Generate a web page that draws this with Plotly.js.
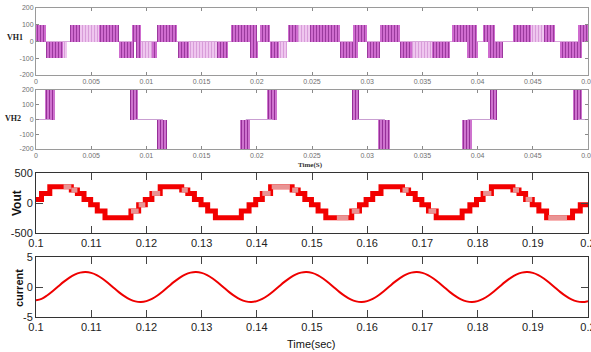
<!DOCTYPE html>
<html><head><meta charset="utf-8">
<script src="https://cdn.plot.ly/plotly-3.0.1.min.js"></script>
<style>html,body{margin:0;padding:0;background:#fff;overflow:hidden}#c{width:591px;height:352px}</style>
</head><body><div id="c"></div>
<script>
// ---------- VH1 : PWM blocks (time start / end, level, shade d=dark l=light)
const vh1Start = [0.0000,0.0009,0.0024,0.0031,0.0040,0.0057,0.0075,0.0087,0.0091,0.0095,0.0105,0.0110,0.0129,0.0139,0.0164,0.0177,0.0194,0.0203,0.0212,0.0220,0.0228,0.0237,0.0248,0.0275,0.0287,0.0300,0.0312,0.0330,0.0341,0.0359,0.0377,0.0390,0.0405,0.0409,0.0432,0.0448,0.0460,0.0475,0.0491];
const vh1End   = [0.0009,0.0024,0.0028,0.0040,0.0057,0.0075,0.0089,0.0095,0.0095,0.0105,0.0110,0.0128,0.0139,0.0164,0.0174,0.0200,0.0201,0.0212,0.0220,0.0227,0.0237,0.0248,0.0275,0.0292,0.0300,0.0312,0.0330,0.0341,0.0359,0.0375,0.0399,0.0400,0.0416,0.0423,0.0448,0.0460,0.0470,0.0495,0.0500];
const vh1Level = [100,-100,-100,100,100,100,-100,100,-100,-100,-100,100,-100,-100,-100,100,-100,100,-100,-100,100,100,100,-100,100,-100,100,-100,-100,-100,100,-100,100,-100,100,100,100,-100,100];
const vh1Shade = ['d','d','l','d','l','d','d','d','d','l','d','d','d','l','d','d','d','d','d','l','d','l','d','d','d','d','d','d','l','d','d','d','d','d','d','l','d','d','d'];

// ---------- VH2 : switching blocks + step level
const vh2BlockStart = [0.0008,0.0085,0.0110,0.0185,0.0209,0.0286,0.0310,0.0386,0.0411,0.0486];
const vh2BlockEnd   = [0.0017,0.0092,0.0119,0.0194,0.0218,0.0293,0.0321,0.0395,0.0418,0.0495];
const vh2BlockLevel = [200,200,-200,-200,200,200,-200,-200,200,200];
const vh2StepT = [0,0.0013,0.0089,0.0115,0.0190,0.0214,0.0290,0.0316,0.0391,0.0415,0.0491,0.05];
const vh2StepV = [0,200,0,-200,0,200,0,-200,0,200,0,0];

// ---------- Vout : staircase (change times, levels) + lighter PWM segments
const voutT = [0.1000,0.1010,0.1025,0.1064,0.1075,0.1087,0.1099,0.1111,0.1125,
  0.1172,0.1186,0.1198,0.1210,0.1225,0.1264,0.1275,0.1287,0.1299,0.1311,0.1325,
  0.1372,0.1386,0.1398,0.1410,0.1425,0.1464,0.1475,0.1487,0.1499,0.1511,0.1525,
  0.1572,0.1586,0.1598,0.1610,0.1625,0.1664,0.1675,0.1687,0.1699,0.1711,0.1725,
  0.1772,0.1786,0.1798,0.1810,0.1825,0.1864,0.1875,0.1887,0.1899,0.1911,0.1925,
  0.1972,0.1986,0.2000];
const voutV = [60,160,270,215,160,60,-30,-135,-245,
  -135,-30,60,160,270,215,160,60,-30,-135,-245,
  -135,-30,60,160,270,215,160,60,-30,-135,-245,
  -135,-30,60,160,270,215,160,60,-30,-135,-245,
  -135,-30,60,160,270,215,160,60,-30,-135,-245,
  -135,-30,-30];
const voutLightStart = [0.1050,0.1064,0.1172,0.1186,0.1210,0.1264,0.1410,0.1427,0.1464,0.1545,0.1572,0.1664,0.1711,0.1810,0.1864,0.1887,0.1928];
const voutLightEnd   = [0.1064,0.1075,0.1186,0.1198,0.1225,0.1275,0.1425,0.1460,0.1475,0.1566,0.1586,0.1675,0.1725,0.1825,0.1875,0.1899,0.1962];
const voutLightLevel = [270,215,-135,-30,160,215,160,270,215,-245,-135,215,-135,160,215,60,-245];

// ---------- current (sampled every 1 ms from 0.1 s)
const currentT0 = 0.1, currentDt = 0.001;
const currentV = [-2.20,-1.98,-1.41,-0.70,0.08,0.85,1.53,2.07,2.40,2.50,2.35,1.98,1.41,0.70,-0.08,-0.85,-1.53,-2.07,-2.40,-2.50,
  -2.35,-1.98,-1.41,-0.70,0.08,0.85,1.53,2.07,2.40,2.50,2.35,1.98,1.41,0.70,-0.08,-0.85,-1.53,-2.07,-2.40,-2.50,
  -2.35,-1.98,-1.41,-0.70,0.08,0.85,1.53,2.07,2.40,2.50,2.35,1.98,1.41,0.70,-0.08,-0.85,-1.53,-2.07,-2.40,-2.50,
  -2.35,-1.98,-1.41,-0.70,0.08,0.85,1.53,2.07,2.40,2.50,2.35,1.98,1.41,0.70,-0.08,-0.85,-1.53,-2.07,-2.40,-2.50,
  -2.35,-1.98,-1.41,-0.70,0.08,0.85,1.53,2.07,2.40,2.50,2.35,1.98,1.41,0.70,-0.08,-0.85,-1.53,-2.07,-2.40,-2.50,
  -2.35];

// ---------- ticks
const topXTicks = [0,0.005,0.01,0.015,0.02,0.025,0.03,0.035,0.04,0.045,0.05];
const topXText  = ['0','0.005','0.01','0.015','0.02','0.025','0.03','0.035','0.04','0.045','0.05'];
const topYTicks = [-200,-100,0,100,200];
const topYText  = ['-200','-100','0','100','200'];
const botXTicks = [0.1,0.11,0.12,0.13,0.14,0.15,0.16,0.17,0.18,0.19,0.2];
const botXText  = ['0.1','0.11','0.12','0.13','0.14','0.15','0.16','0.17','0.18','0.19','0.2'];
const voutYTicks = [-500,0,500], voutYText = ['-500','0','500'];
const curYTicks = [-5,0,5], curYText = ['-5','0','5'];

// ---------- build traces
function blocks(starts, ends, levels, xa, ya, bg, fg, sol) {
  return {type:'bar', x: starts.map((s,i)=>(s+ends[i])/2), y: levels, base: 0,
    width: starts.map((s,i)=>ends[i]-s), xaxis: xa, yaxis: ya, hoverinfo:'skip', showlegend:false,
    marker:{color:bg, line:{width:0}, pattern:{shape:'|', fillmode:'replace', bgcolor:bg, fgcolor:fg, size:3, solidity:sol}}};
}
function pick(arr, shade) { return arr.filter((_,i)=>vh1Shade[i]===shade); }

const traces = [];
traces.push(blocks(pick(vh1Start,'d'), pick(vh1End,'d'), pick(vh1Level,'d'), 'x', 'y', '#cf6ccf', '#9a3a9d', 0.35));
traces.push(blocks(pick(vh1Start,'l'), pick(vh1End,'l'), pick(vh1Level,'l'), 'x', 'y', '#efc6ef', '#d699d7', 0.3));

// VH2 level line: only the zero-level stretches are visible (±200 lie on the frame)
const zx = [], zy = [];
for (let i = 0; i < vh2StepT.length - 1; i++) {
  if (vh2StepV[i] === 0) { zx.push(vh2StepT[i], vh2StepT[i+1], null); zy.push(0, 0, null); }
}
traces.push({type:'scatter', mode:'lines', x: zx, y: zy, xaxis:'x2', yaxis:'y2',
  line:{color:'#c99fd2', width:1}, hoverinfo:'skip', showlegend:false});
traces.push(blocks(vh2BlockStart, vh2BlockEnd, vh2BlockLevel, 'x2', 'y2', '#d47ad4', '#962f98', 0.4));

traces.push({type:'scatter', mode:'lines', x: voutT, y: voutV, xaxis:'x3', yaxis:'y3',
  line:{shape:'hv', color:'#f20000', width:5}, hoverinfo:'skip', showlegend:false});
const lx = [], ly = [];
voutLightStart.forEach((s,i)=>{ lx.push(s, voutLightEnd[i], null); ly.push(voutLightLevel[i], voutLightLevel[i], null); });
traces.push({type:'scatter', mode:'lines', x: lx, y: ly, xaxis:'x3', yaxis:'y3',
  line:{color:'#e99494', width:5}, hoverinfo:'skip', showlegend:false});

traces.push({type:'scatter', mode:'lines', x: currentV.map((_,i)=>currentT0 + i*currentDt), y: currentV,
  xaxis:'x4', yaxis:'y4', line:{shape:'spline', color:'#ee0000', width:2}, hoverinfo:'skip', showlegend:false});

// ---------- layout
const W = 591, H = 352;
const xd = [36/W, 588/W];
const yd = (top, bot) => [1 - bot/H, 1 - top/H];
const sans = 'Liberation Sans, Arial, sans-serif';
function topAx(extra) {
  return Object.assign({showline:true, linecolor:'#9a9a9a', linewidth:1, mirror:'ticks', ticks:'inside', ticklen:3,
    tickcolor:'#8a8a8a', tickfont:{family:sans, size:7, color:'#707070'}, ticklabeloverflow:'allow',
    showgrid:false, zeroline:false, fixedrange:true}, extra);
}
function botAx(extra) {
  return Object.assign({showline:true, linecolor:'#333', linewidth:1, mirror:'ticks', ticks:'inside', ticklen:7,
    tickcolor:'#444', tickfont:{family:sans, size:11, color:'#222'}, ticklabeloverflow:'allow',
    showgrid:false, zeroline:false, fixedrange:true}, extra);
}
const layout = {
  width: W, height: H, margin:{l:0,r:0,t:0,b:0}, paper_bgcolor:'#fff', plot_bgcolor:'#fff',
  barmode:'overlay', bargap:0, showlegend:false,
  xaxis:  topAx({domain:xd, anchor:'y',  range:[0,0.05], tickmode:'array', tickvals:topXTicks, ticktext:topXText}),
  yaxis:  topAx({domain:yd(8,75), anchor:'x', range:[-200,200], tickmode:'array', tickvals:topYTicks, ticktext:topYText,
                 zeroline:true, zerolinecolor:'#d9a8db', zerolinewidth:1}),
  xaxis2: topAx({domain:xd, anchor:'y2', range:[0,0.05], tickmode:'array', tickvals:topXTicks, ticktext:topXText}),
  yaxis2: topAx({domain:yd(90,149), anchor:'x2', range:[-200,200], tickmode:'array', tickvals:topYTicks, ticktext:topYText}),
  xaxis3: botAx({domain:xd, anchor:'y3', range:[0.1,0.2], tickmode:'array', tickvals:botXTicks, ticktext:botXText}),
  yaxis3: botAx({domain:yd(173,233), anchor:'x3', range:[-500,500], tickmode:'array', tickvals:voutYTicks, ticktext:voutYText}),
  xaxis4: botAx({domain:xd, anchor:'y4', range:[0.1,0.2], tickmode:'array', tickvals:botXTicks, ticktext:botXText}),
  yaxis4: botAx({domain:yd(257,317), anchor:'x4', range:[-5,5], tickmode:'array', tickvals:curYTicks, ticktext:curYText}),
  annotations: [
    {text:'<b>VH1</b>', x:15/W, y:1-37/H, xref:'paper', yref:'paper', showarrow:false, xanchor:'center', yanchor:'middle',
     font:{family:'Liberation Serif, serif', size:8, color:'#222'}},
    {text:'<b>VH2</b>', x:13/W, y:1-118/H, xref:'paper', yref:'paper', showarrow:false, xanchor:'center', yanchor:'middle',
     font:{family:'Liberation Serif, serif', size:8, color:'#222'}},
    {text:'<b>Time(S)</b>', x:311/W, y:1-165/H, xref:'paper', yref:'paper', showarrow:false, xanchor:'center', yanchor:'middle',
     font:{family:'Liberation Serif, serif', size:7, color:'#333'}},
    {text:'<b>Vout</b>', x:17/W, y:1-203/H, xref:'paper', yref:'paper', showarrow:false, textangle:-90, xanchor:'center', yanchor:'middle',
     font:{family:sans, size:12, color:'#111'}},
    {text:'<b>current</b>', x:19/W, y:1-288/H, xref:'paper', yref:'paper', showarrow:false, textangle:-90, xanchor:'center', yanchor:'middle',
     font:{family:sans, size:11, color:'#111'}},
    {text:'Time(sec)', x:311/W, y:1-344/H, xref:'paper', yref:'paper', showarrow:false, xanchor:'center', yanchor:'middle',
     font:{family:sans, size:11, color:'#111'}}
  ]
};
Plotly.newPlot('c', traces, layout, {staticPlot:true, displayModeBar:false});
</script></body></html>
